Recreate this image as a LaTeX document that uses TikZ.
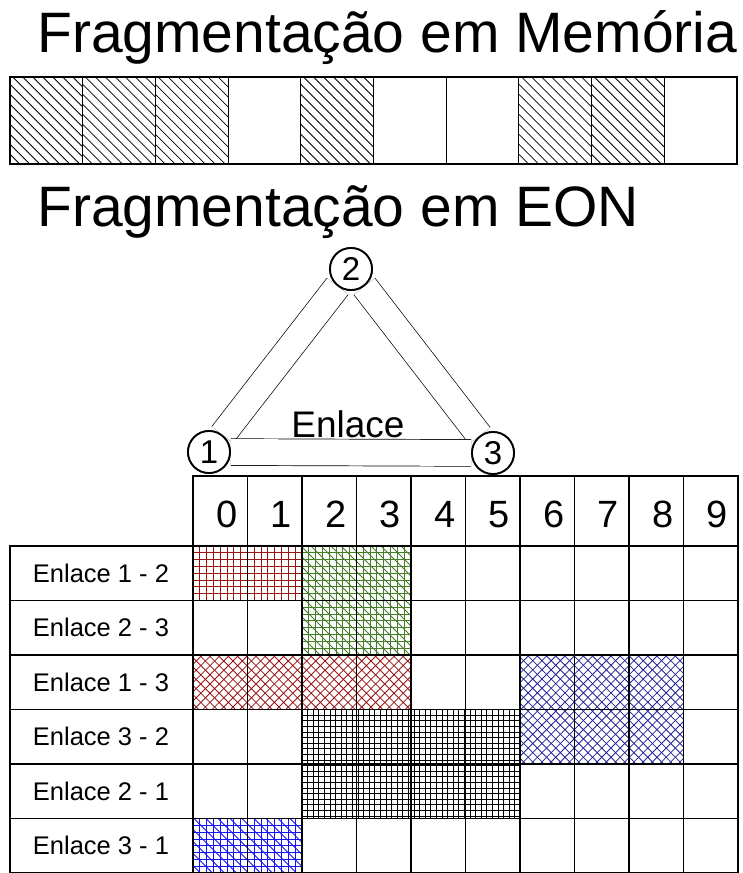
\documentclass[tikz,border=0pt]{standalone}
\usepackage{fontspec}
\setmainfont{Liberation Sans}
\definecolor{dred}{RGB}{150,20,20}
\definecolor{dgreen}{RGB}{70,125,40}
\definecolor{dblue}{RGB}{35,35,150}
\definecolor{bblue}{RGB}{20,20,245}
% grid hatching: x1 y1 x2 y2 spacing style
\newcommand{\hgridfill}[6]{%
  \begin{scope}
  \clip (#1,#2) rectangle (#3,#4);
  \pgfmathsetmacro\hgA{#1+#5}\pgfmathsetmacro\hgB{#2+#5}%
  \foreach \xx in {#1,\hgA,...,#3} {\draw[#6] (\xx,#2) -- (\xx,#4);}
  \foreach \yy in {#2,\hgB,...,#4} {\draw[#6] (#1,\yy) -- (#3,\yy);}
  \end{scope}}
% "\" lines: x1 y1 x2 y2 horizontal period style
\newcommand{\hbackfill}[6]{%
  \begin{scope}
  \clip (#1,#2) rectangle (#3,#4);
  \pgfmathsetmacro\hbLo{#2-#3}\pgfmathsetmacro\hbHi{#4-#1}\pgfmathsetmacro\hbN{\hbLo+#5}%
  \foreach \cc in {\hbLo,\hbN,...,\hbHi} {\draw[#6] (#1,{#1+\cc}) -- (#3,{#3+\cc});}
  \end{scope}}
% "/" lines: x1 y1 x2 y2 horizontal period style
\newcommand{\hfwdfill}[6]{%
  \begin{scope}
  \clip (#1,#2) rectangle (#3,#4);
  \pgfmathsetmacro\hfLo{#1+#2}\pgfmathsetmacro\hfHi{#3+#4}\pgfmathsetmacro\hfN{\hfLo+#5}%
  \foreach \cc in {\hfLo,\hfN,...,\hfHi} {\draw[#6] (#1,{\cc-#1}) -- (#3,{\cc-#3});}
  \end{scope}}
\begin{document}
\begin{tikzpicture}[x=1pt,y=-1pt,
  title/.style={anchor=base west,inner sep=0pt,font=\fontsize{57}{62}\selectfont},
  nd/.style={circle,draw,line width=1.8pt,fill=white,minimum size=42pt,inner sep=0pt,font=\fontsize{33}{35}\selectfont},
  edgeband/.style={double=white,double distance=26pt,line width=0.7pt},
  gridline/.style={line width=1.1pt},
  rowlab/.style={inner sep=0pt,font=\fontsize{25.5}{27}\selectfont},
  digit/.style={anchor=base,inner sep=0pt,font=\fontsize{38}{40}\selectfont},
  memh/.style={line width=0.8pt,black},
  redh/.style={line width=0.8pt,dred},
  greenh/.style={line width=0.8pt,dgreen},
  blueh/.style={line width=0.8pt,dblue},
  bblueh/.style={line width=0.8pt,bblue},
  blackh/.style={line width=0.65pt,black}
]
\useasboundingbox (0,0) rectangle (743,873);

% titles
\node[title] (t1) at (37,52) {Fragmentação em Memória};
\node[title] (t2) at (37,226) {Fragmentação em EON};

% memory bar
\foreach \i in {0,1,2,4,7,8} {
  \pgfmathsetmacro\mxa{10+72.7*\i}\pgfmathsetmacro\mxb{10+72.7*(\i+1)}
  \hbackfill{\mxa}{77}{\mxb}{164}{10}{memh}
}
\foreach \i in {0,...,9} {
  \draw[gridline] ({10+72.7*\i},77) rectangle ({10+72.7*(\i+1)},164);
}

% triangle network
\node[nd] (n1) at (209,452) {1};
\node[nd] (n2) at (351,269) {2};
\node[nd] (n3) at (493,453) {3};
\draw[edgeband] (n1) -- (n2);
\draw[edgeband] (n2) -- (n3);
\draw[edgeband] (n1) -- (n3);
\node[nd] at (n1) {1};
\node[nd] at (n2) {2};
\node[nd] at (n3) {3};
\node[anchor=base,inner sep=0pt,font=\fontsize{37}{40}\selectfont] (enl) at (348,437) {Enlace};

% spectrum table: columns x = 193 + 54.5k, rows y = 546 + 54.5r
\hgridfill{193}{546}{302}{600.5}{6.8}{redh}
\hgridfill{302}{546}{411}{655}{6.8}{greenh}
\hbackfill{302}{546}{411}{655}{10}{greenh}
\hbackfill{193}{655}{411}{709.5}{9.2}{redh}
\hfwdfill{193}{655}{411}{709.5}{9.2}{redh}
\hbackfill{520}{655}{683.5}{764}{9.2}{blueh}
\hfwdfill{520}{655}{683.5}{764}{9.2}{blueh}
\hgridfill{302}{709.5}{520}{818.5}{5.6}{blackh}
\hgridfill{193}{818.5}{302}{873}{6.8}{bblueh}
\hbackfill{193}{818.5}{302}{873}{12}{bblueh}

% header row
\foreach \k in {0,...,9} {
  \draw[gridline] ({193+54.5*\k},476) rectangle ({193+54.5*(\k+1)},546);
  \node[digit] (d\k) at ({193+54.5*\k+34},527) {\k};
}
% body rows
\foreach \r/\lab in {0/Enlace 1 - 2,1/Enlace 2 - 3,2/Enlace 1 - 3,3/Enlace 3 - 2,4/Enlace 2 - 1,5/Enlace 3 - 1} {
  \draw[gridline] (10,{546+54.5*\r}) rectangle (193,{546+54.5*(\r+1)});
  \node[rowlab] (r\r) at (101,{546+54.5*\r+27.25}) {\lab};
  \foreach \k in {0,...,9} {
    \draw[gridline] ({193+54.5*\k},{546+54.5*\r}) rectangle ({193+54.5*(\k+1)},{546+54.5*(\r+1)});
  }
}
\end{tikzpicture}
\end{document}
